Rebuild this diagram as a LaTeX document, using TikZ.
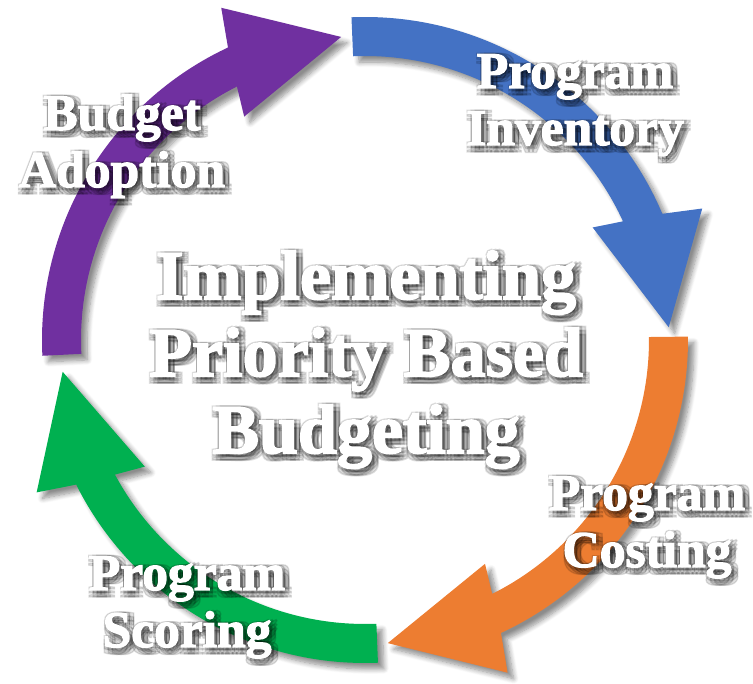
\documentclass[tikz,border=0pt]{standalone}
\usepackage{fontspec}
\newfontfamily\cyclefont{Liberation Serif}[BoldFeatures={FakeBold=2.5}]
\usetikzlibrary{shadows.blur}

\definecolor{pbbblue}{RGB}{68,114,196}
\definecolor{pbborange}{RGB}{237,125,49}
\definecolor{pbbgreen}{RGB}{0,176,80}
\definecolor{pbbpurple}{RGB}{112,48,160}

\tikzset{
  stage/.style={text=white, align=center, anchor=base, inner sep=0pt,
    font=\cyclefont\bfseries\fontsize{51.5}{57}\selectfont},
  title/.style={stage, font=\cyclefont\bfseries\fontsize{70}{77}\selectfont},
  glow/.style={text=black, text opacity=0.12},
  cyclearrow/.style={blur shadow={shadow xshift=6pt, shadow yshift=-6pt,
    shadow blur radius=5pt, shadow blur steps=8, shadow opacity=45}},
}

% #1 colour, #2 tail angle, #3 angle where the head starts
\newcommand{\cyclestep}[3]{%
  \fill[#1, cyclearrow] (#2:284) arc[start angle=#2, end angle={#3+1}, radius=284]
    -- ({#3+2.6}:254) -- ({#3-21.3}:304) -- ({#3-2.4}:362) -- ({#3-0.7}:323)
    arc[start angle={#3-0.7}, end angle=#2, radius=323] -- cycle;}

\begin{document}
\begin{tikzpicture}[x=1pt, y=1pt]
  \useasboundingbox (-365,-344) rectangle (388,340);

  \cyclestep{pbbpurple}{182.8}{115.8}
  \cyclestep{pbbblue}{92.4}{23.7}
  \cyclestep{pbborange}{0.6}{-64.4}
  \cyclestep{pbbgreen}{-87.7}{-152.7}

  % base anchor sits on the last line
  \foreach \lbl/\sty/\x/\y/\txt in {
      adoption/stage/-243/153/{Budget\\Adoption},
      inventory/stage/210/195/{Program\\Inventory},
      costing/stage/282/-227/{Program\\Costing},
      scoring/stage/-178/-307/{Program\\Scoring},
      pbb/title/1/-113/{Implementing\\Priority Based\\Budgeting}} {
    \foreach \dx in {-1,3,7}
      \foreach \dy in {-7,-3,1}
        \node[\sty, glow] (\lbl g\dx\dy) at (\x+\dx, \y+\dy) {\txt};
    \node[\sty] (\lbl) at (\x, \y) {\txt};
  }
\end{tikzpicture}
\end{document}
